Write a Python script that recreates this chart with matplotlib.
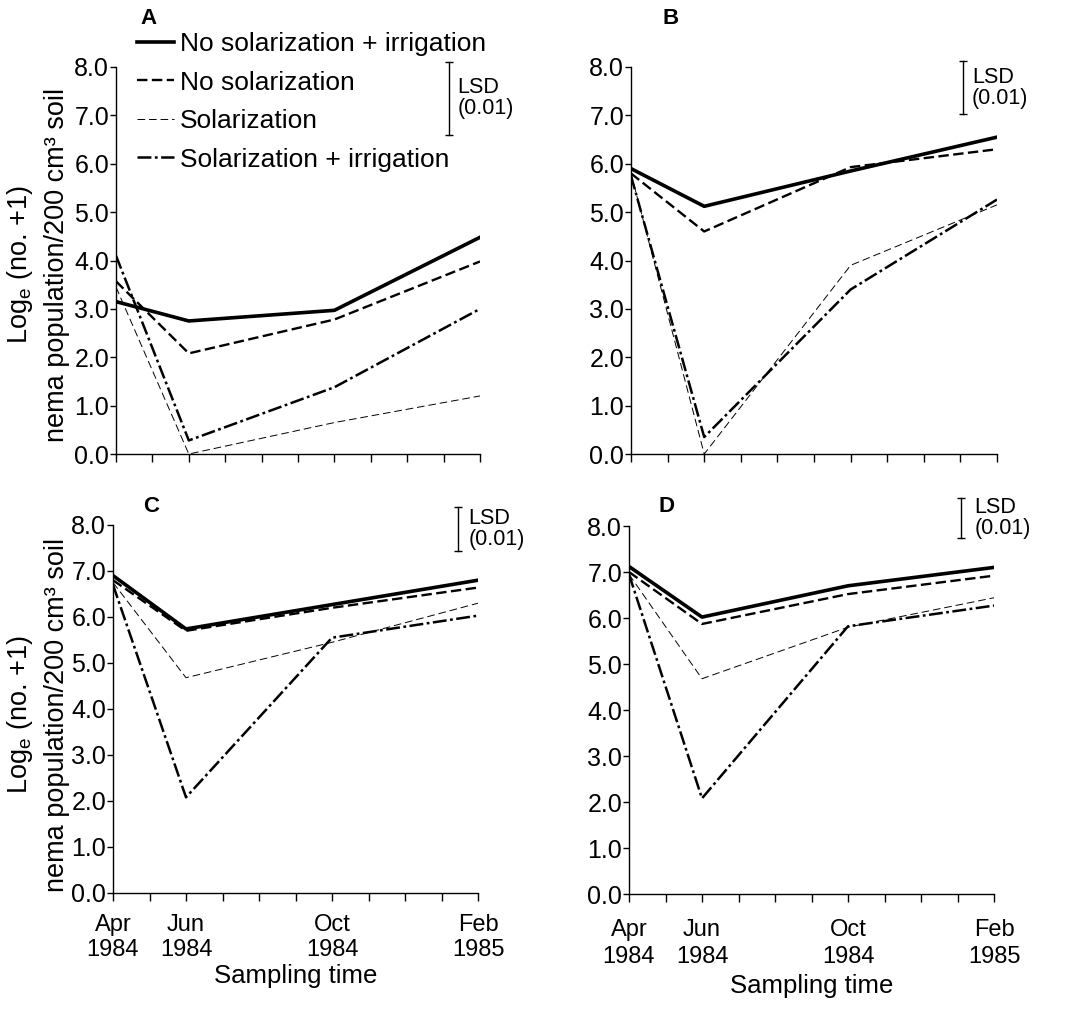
import matplotlib
matplotlib.use("Agg")
import matplotlib.pyplot as plt

plt.rcParams['font.family'] = ['Liberation Sans', 'DejaVu Sans']
plt.rcParams['mathtext.fontset'] = 'custom'
plt.rcParams['mathtext.rm'] = 'Liberation Sans'
plt.rcParams['lines.scale_dashes'] = False

# sampling times, months after April 1984
months = [0, 2, 6, 10]
month_labels = ["Apr\n1984", "Jun\n1984", "Oct\n1984", "Feb\n1985"]
series_names = ["No solarization + irrigation", "No solarization",
                "Solarization", "Solarization + irrigation"]

# loge(no.+1) per panel, order: no sol+irr, no sol, sol, sol+irr
panel_a = [[3.15, 2.75, 2.97, 4.48],
           [3.57, 2.08, 2.78, 3.98],
           [3.45, 0.00, 0.65, 1.20],
           [4.10, 0.28, 1.38, 3.00]]
panel_b = [[5.90, 5.12, 5.85, 6.55],
           [5.80, 4.60, 5.93, 6.30],
           [5.80, 0.00, 3.90, 5.15],
           [5.75, 0.35, 3.40, 5.26]]
panel_c = [[6.90, 5.74, 6.27, 6.80],
           [6.80, 5.70, 6.20, 6.64],
           [6.75, 4.68, 5.45, 6.30],
           [6.70, 2.08, 5.55, 6.03]]
panel_d = [[7.12, 6.02, 6.70, 7.10],
           [7.00, 5.87, 6.52, 6.92],
           [6.95, 4.68, 5.80, 6.44],
           [6.95, 2.08, 5.82, 6.27]]

panel_letters = ["A", "B", "C", "D"]
lsd_top = [8.10, 8.12, 8.40, 8.60]
lsd_size = [1.50, 1.10, 0.96, 0.87]

styles = [dict(lw=2.6, ls='-'),
          dict(lw=1.7, ls=(0, (7.5, 3.2))),
          dict(lw=0.7, ls=(0, (5.5, 2.8))),
          dict(lw=1.8, ls=(0, (10, 2.5, 2, 2.5)))]

fig = plt.figure(figsize=(10.71, 10.29), dpi=100)
W, H = 1071, 1029

boxes = [(116, 480, 67, 454), (631, 997, 67, 454),
         (113, 478, 525, 893), (629, 994, 526, 894)]
lsd_x = [9.15, 9.07, 9.45, 9.10]
lsd_text_x = [9.38, 9.32, 9.74, 9.46]
letter_pos = [(140, 18), (662, 18), (143, 507), (658, 507)]
# bottom row tick-label layout (pad, linespacing, xlabel pad)
tick_pad = [0, 0, 9, 12]
tick_ls = [1, 1, 1.18, 1.32]
xlab_pad = [0, 0, 2, 4]

axes = []
for i, panel in enumerate([panel_a, panel_b, panel_c, panel_d]):
    x0, x1, y0, y1 = boxes[i]
    ax = fig.add_axes([x0 / W, 1 - y1 / H, (x1 - x0) / W, (y1 - y0) / H])
    axes.append(ax)
    for vals, st, name in zip(panel, styles, series_names):
        ax.plot(months, vals, color='black', label=name, **st)

    ax.set_xlim(0, 10)
    ax.set_ylim(0, 8)
    ax.set_yticks(range(9))
    ax.set_yticklabels([f"{v:.1f}" for v in range(9)])
    ax.set_xticks(range(11), minor=True)
    ax.set_xticks(months)
    if i >= 2:
        ax.set_xticklabels(month_labels, linespacing=tick_ls[i])
        ax.set_xlabel("Sampling time", fontsize=18.5, labelpad=xlab_pad[i])
        ax.tick_params(axis='x', pad=tick_pad[i])
    else:
        ax.set_xticklabels([])
    for s in ['top', 'right']:
        ax.spines[s].set_visible(False)
    for s in ['left', 'bottom']:
        ax.spines[s].set_linewidth(1.0)
    ax.tick_params(axis='x', which='both', direction='out', length=6, width=1.0,
                   labelsize=17)
    ax.tick_params(axis='y', direction='out', length=4, width=1.0, labelsize=18, pad=1)

    # LSD bar
    lo = lsd_top[i] - lsd_size[i]
    ax.plot([lsd_x[i], lsd_x[i]], [lo, lsd_top[i]], color='black', lw=1.0,
            marker='_', ms=6, mew=1.0, clip_on=False)
    ax.text(lsd_text_x[i], lsd_top[i] - lsd_size[i] / 2, "LSD\n(0.01)", fontsize=15.5,
            va='center', ha='left', linespacing=1.0)

    lx, ly = letter_pos[i]
    fig.text(lx / W, 1 - ly / H, panel_letters[i], fontsize=16, fontweight='bold',
             va='center', ha='left')

# y labels for left column
for yc in [265, 715]:
    fig.text(20 / W, 1 - yc / H, r"Log$_\mathregular{e}$ (no. +1)", rotation=90,
             fontsize=19.5, va='center', ha='center')
    fig.text(57 / W, 1 - yc / H, "nema population/200 cm³ soil", rotation=90,
             fontsize=19.5, va='center', ha='center')

axes[0].legend(loc='upper left', bbox_to_anchor=(137 / W, 1 - 32 / H),
               bbox_transform=fig.transFigure, frameon=False, fontsize=19,
               handlelength=1.4, handletextpad=0.23, labelspacing=0.55,
               borderpad=0, borderaxespad=0)

fig.savefig("out.png", dpi=100)
